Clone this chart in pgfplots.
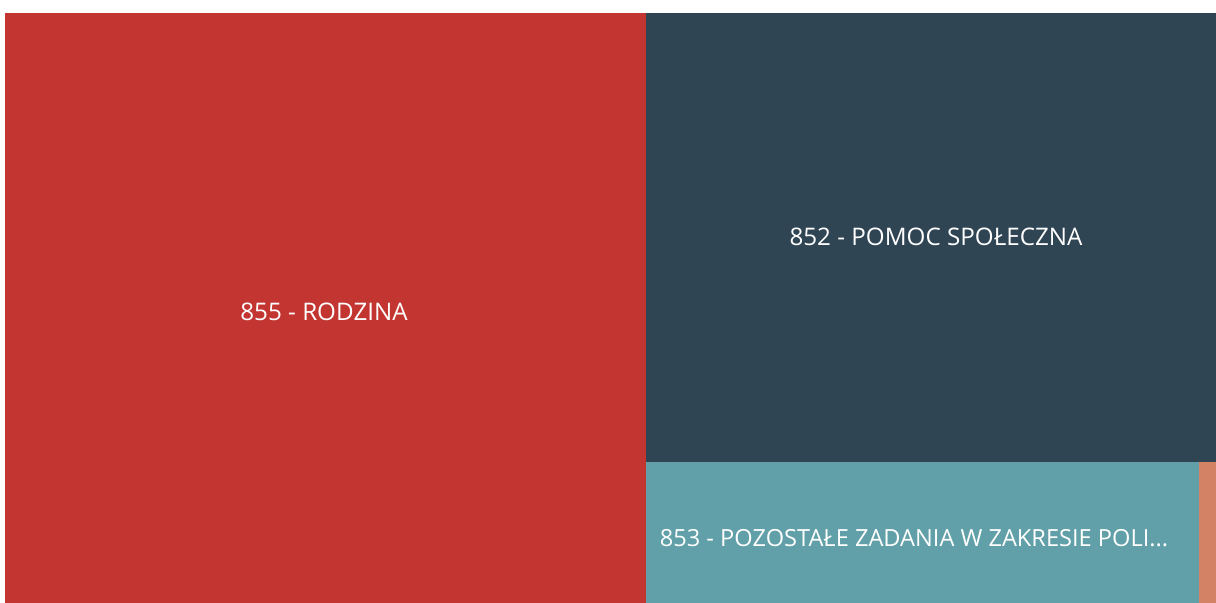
\documentclass[border=0pt]{standalone}
\usepackage{fontspec}
\setmainfont{Open Sans}
\usepackage{pgfplots}
\pgfplotsset{compat=1.18}
\definecolor{cred}{HTML}{C23531}
\definecolor{cnavy}{HTML}{2F4554}
\definecolor{cteal}{HTML}{61A0A8}
\definecolor{corange}{HTML}{D48265}
\begin{document}
\begin{tikzpicture}
\begin{axis}[
  width=608pt, height=301pt, scale only axis,
  xmin=0, xmax=1216, ymin=0, ymax=602, y dir=reverse,
  axis lines=none, ticks=none, clip=true,
]
\path (rel axis cs:0,0) rectangle (rel axis cs:1,1);
% treemap tiles (pixel coordinates)
\addplot[fill=cred, draw=none] coordinates {(5,13) (645.5,13) (645.5,625) (5,625)} -- cycle;
\addplot[fill=cnavy, draw=none] coordinates {(645.5,13) (1216,13) (1216,462) (645.5,462)} -- cycle;
\addplot[fill=cteal, draw=none] coordinates {(645.5,462) (1199,462) (1199,625) (645.5,625)} -- cycle;
\addplot[fill=corange, draw=none] coordinates {(1199,462) (1216,462) (1216,625) (1199,625)} -- cycle;
\node[text=white, font=\fontsize{12.1pt}{14pt}\selectfont] at (axis cs:324,312) {855 - RODZINA};
\node[text=white, font=\fontsize{12.1pt}{14pt}\selectfont] at (axis cs:936,237) {852 - POMOC SPOŁECZNA};
\node[text=white, font=\fontsize{11.8pt}{14pt}\selectfont] at (axis cs:914,538) {853 - POZOSTAŁE ZADANIA W ZAKRESIE POLI...};
\end{axis}
\useasboundingbox (current axis.south west) rectangle (current axis.north east);
\end{tikzpicture}
\end{document}
